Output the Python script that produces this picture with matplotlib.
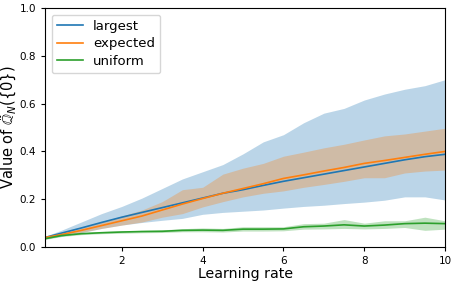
import matplotlib
matplotlib.use("Agg")
import matplotlib.pyplot as plt

x = [0.1, 0.5, 1.0, 1.5, 2.0, 2.5, 3.0, 3.5, 4.0, 4.5, 5.0, 5.5, 6.0, 6.5, 7.0, 7.5, 8.0, 8.5, 9.0, 9.5, 10.0]

largest_mean = [0.04, 0.058, 0.08, 0.103, 0.125, 0.145, 0.165, 0.185, 0.205, 0.225, 0.24, 0.258, 0.275, 0.29, 0.305, 0.32, 0.335, 0.35, 0.365, 0.378, 0.388]
largest_low = [0.035, 0.045, 0.06, 0.078, 0.092, 0.103, 0.112, 0.12, 0.137, 0.145, 0.15, 0.155, 0.163, 0.17, 0.175, 0.182, 0.188, 0.196, 0.21, 0.21, 0.197]
largest_high = [0.045, 0.07, 0.105, 0.14, 0.17, 0.205, 0.245, 0.285, 0.315, 0.345, 0.39, 0.44, 0.47, 0.52, 0.56, 0.58, 0.615, 0.64, 0.66, 0.675, 0.70]

expected_mean = [0.04, 0.052, 0.07, 0.09, 0.11, 0.13, 0.155, 0.18, 0.203, 0.225, 0.245, 0.265, 0.287, 0.302, 0.318, 0.333, 0.35, 0.362, 0.375, 0.388, 0.40]
expected_low = [0.038, 0.048, 0.062, 0.078, 0.092, 0.105, 0.125, 0.14, 0.168, 0.19, 0.21, 0.225, 0.235, 0.25, 0.262, 0.275, 0.29, 0.29, 0.31, 0.318, 0.322]
expected_high = [0.042, 0.058, 0.08, 0.105, 0.13, 0.155, 0.19, 0.24, 0.25, 0.305, 0.33, 0.35, 0.38, 0.397, 0.415, 0.43, 0.448, 0.465, 0.473, 0.485, 0.497]

uniform_mean = [0.035, 0.048, 0.056, 0.06, 0.063, 0.065, 0.066, 0.07, 0.071, 0.07, 0.075, 0.075, 0.076, 0.085, 0.088, 0.093, 0.088, 0.092, 0.098, 0.1, 0.098]
uniform_low = [0.032, 0.044, 0.052, 0.056, 0.058, 0.06, 0.061, 0.064, 0.064, 0.063, 0.067, 0.067, 0.068, 0.075, 0.076, 0.078, 0.076, 0.078, 0.082, 0.07, 0.075]
uniform_high = [0.038, 0.052, 0.06, 0.065, 0.068, 0.07, 0.072, 0.077, 0.08, 0.078, 0.085, 0.085, 0.085, 0.098, 0.1, 0.115, 0.1, 0.11, 0.11, 0.125, 0.11]

series = [
    ("largest", largest_mean, largest_low, largest_high, "#1f77b4"),
    ("expected", expected_mean, expected_low, expected_high, "#ff7f0e"),
    ("uniform", uniform_mean, uniform_low, uniform_high, "#2ca02c"),
]

fig = plt.figure(figsize=(4.57, 2.84), dpi=100)
ax = fig.add_axes([0.0985, 0.130, 0.8755, 0.842])

for name, m, lo, hi, c in series:
    ax.fill_between(x, lo, hi, color=c, alpha=0.3, linewidth=0)
    ax.plot(x, m, color=c, label=name, linewidth=1.2)

ax.set_xlim(0.1, 10)
ax.set_ylim(0, 1.0)
ax.set_xticks([2, 4, 6, 8, 10])
ax.set_yticks([0.0, 0.2, 0.4, 0.6, 0.8, 1.0])
ax.tick_params(labelsize=7.5, length=3, width=0.8)
ax.set_xlabel("Learning rate", fontsize=10.2, labelpad=1)
ax.set_ylabel(r"Value of $\tilde{\mathbb{Q}}_N(\{0\})$", fontsize=10.5, labelpad=0.3)
for s in ax.spines.values():
    s.set_linewidth(0.8)
ax.legend(loc="upper left", fontsize=9.5, handlelength=2.0, borderpad=0.4,
          labelspacing=0.35, handletextpad=0.75)

fig.savefig("out.png", dpi=100)
